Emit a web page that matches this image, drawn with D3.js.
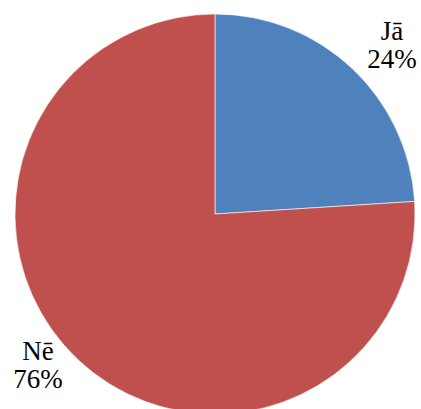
<!DOCTYPE html>
<html><head><meta charset="utf-8">
<script src="https://cdn.jsdelivr.net/npm/d3@7"></script>
<style>html,body{margin:0;padding:0;background:#fff;}svg{display:block;}</style>
</head><body>
<svg id="chart" width="421" height="409"></svg>
<script>
const categories = ["Jā", "Nē"];
const values = [24, 76];
const percentLabels = ["24%", "76%"];
const colors = ["#4F81BD", "#C0504D"];

const svg = d3.select("#chart");
const cx = 215, cy = 214, r = 200;
const g = svg.append("g").attr("transform", `translate(${cx},${cy})`);
const pie = d3.pie().sort(null).value(d => d)(values);
const arc = d3.arc().innerRadius(0).outerRadius(r);
g.selectAll("path").data(pie).enter().append("path")
  .attr("d", arc).attr("fill", (d, i) => colors[i])
  .attr("stroke", "#fff").attr("stroke-width", 0.6);

const labelPos = [[392, 40], [38, 360]];
const lines = 28;
categories.forEach((c, i) => {
  const t = svg.append("text").attr("text-anchor", "middle")
    .attr("font-family", "Liberation Serif, serif").attr("font-size", 27).attr("fill", "#000");
  t.append("tspan").attr("x", labelPos[i][0]).attr("y", labelPos[i][1]).text(c);
  t.append("tspan").attr("x", labelPos[i][0]).attr("y", labelPos[i][1] + lines).text(percentLabels[i]);
});
</script>
</body></html>
